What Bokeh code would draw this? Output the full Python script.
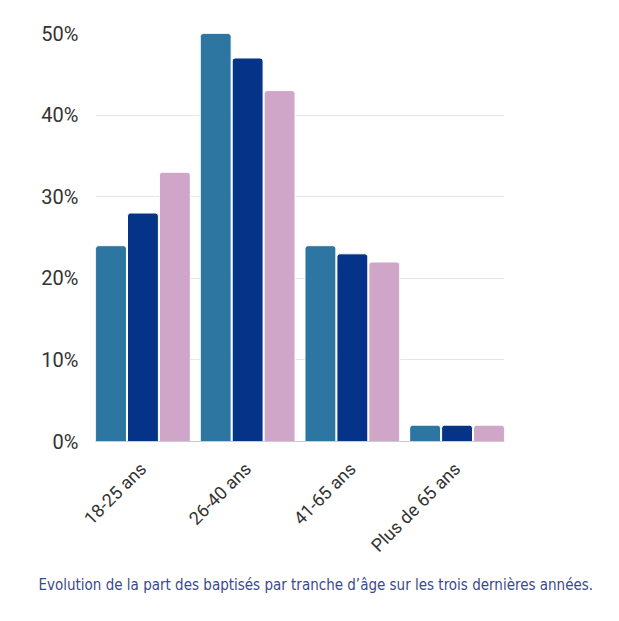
from bokeh.plotting import figure
from bokeh.models import ColumnDataSource, FactorRange, Range1d, FixedTicker, PrintfTickFormatter, Title
from bokeh.transform import dodge
from bokeh.embed import file_html
from bokeh.resources import INLINE
from math import pi

categories = ["18-25 ans", "26-40 ans", "41-65 ans", "Plus de 65 ans"]
serie_1 = [24, 50, 24, 2]
serie_2 = [28, 47, 23, 2]
serie_3 = [33, 43, 22, 2]
y_ticks = [0, 10, 20, 30, 40, 50]
caption = "Evolution de la part des baptisés par tranche d\u2019âge sur les trois dernières années."

colors = ["#2d76a1", "#053387", "#cfa5c8"]

src = ColumnDataSource(dict(cat=categories, s1=serie_1, s2=serie_2, s3=serie_3))

p = figure(width=603, height=605, output_backend="svg", toolbar_location=None,
           x_range=FactorRange(*categories, range_padding=-0.0235, range_padding_units="percent"),
           y_range=Range1d(0, 50),
           min_border_left=95, min_border_right=99, min_border_top=33, min_border_bottom=164)
p.x_range.factor_padding = 0
p.outline_line_color = None
p.background_fill_color = "white"
p.border_fill_color = "white"

offsets = [-0.305, 0.0, 0.305]
for col, off, c in zip(["s1", "s2", "s3"], offsets, colors):
    p.vbar(x=dodge("cat", off, range=p.x_range), top=col, bottom=0, width=0.295, source=src,
           fill_color=c, line_color="white", line_width=1, border_radius=[3, 3, 0, 0])

p.xgrid.grid_line_color = None
p.ygrid.grid_line_color = "#e6e6e6"
p.ygrid.grid_line_width = 1

p.yaxis.ticker = FixedTicker(ticks=y_ticks)
p.yaxis.formatter = PrintfTickFormatter(format="%d%%")
p.yaxis.axis_line_color = None
p.yaxis.major_tick_line_color = None
p.yaxis.minor_tick_line_color = None
p.yaxis.major_label_text_font = "Roboto"
p.yaxis.major_label_text_font_size = "20px"
p.yaxis.major_label_text_color = "#333333"
p.yaxis.major_label_standoff = 11

p.xaxis.axis_line_color = "#cccccc"
p.xaxis.major_tick_line_color = None
p.xaxis.minor_tick_line_color = None
p.xaxis.major_label_orientation = pi / 4
p.xaxis.major_label_text_font = "Roboto"
p.xaxis.major_label_text_font_size = "18px"
p.xaxis.major_label_text_color = "#333333"
p.xaxis.major_label_standoff = 18

t = Title(text=caption, align="left", text_font="DejaVu Sans Condensed",
          text_font_size="15px", text_font_style="normal", text_color="#3a4a8c",
          standoff=14, offset=-57)
p.add_layout(t, "below")

open("out.html", "w").write(file_html(p, INLINE))
